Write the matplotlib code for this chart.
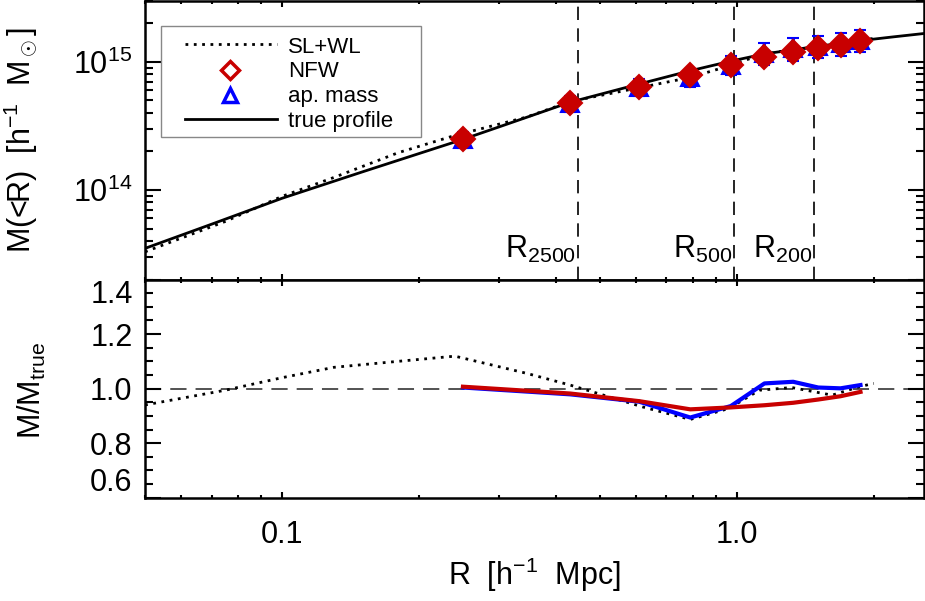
"""Cluster mass profile: SL+WL, NFW and aperture-mass estimates vs true profile."""

import matplotlib
matplotlib.use("Agg")
import matplotlib.pyplot as plt
from matplotlib.lines import Line2D
from matplotlib.patches import Rectangle
from matplotlib.ticker import FixedLocator, FixedFormatter, LogLocator, LogFormatterSciNotation, MultipleLocator, FormatStrFormatter

plt.rcParams["font.family"] = ["Liberation Sans", "DejaVu Sans"]
plt.rcParams["mathtext.fontset"] = "custom"
plt.rcParams["mathtext.rm"] = "Liberation Sans"
plt.rcParams["mathtext.it"] = "Liberation Sans:italic"
plt.rcParams["mathtext.bf"] = "Liberation Sans:bold"

# true mass profile [h^-1 Msun] vs R [h^-1 Mpc]
true_r = [0.05, 0.07, 0.1, 0.15, 0.2, 0.25, 0.3, 0.43, 0.61, 0.79, 0.97, 1.15, 1.33, 1.51, 1.69, 1.87, 2.2, 2.58]
true_m = [3.5e13, 5.4e13, 8.6e13, 1.38e14, 1.92e14, 2.48e14, 3.1e14, 4.83e14, 6.7e14, 8.5e14,
          1.01e15, 1.15e15, 1.24e15, 1.32e15, 1.39e15, 1.46e15, 1.56e15, 1.66e15]

# SL+WL reconstruction
slwl_r = [0.05, 0.075, 0.1, 0.13, 0.18, 0.24, 0.345, 0.43, 0.62, 0.79, 0.96, 1.12, 1.32, 1.62, 1.86, 2.0]
slwl_m = [3.29e13, 5.67e13, 8.9e13, 1.25e14, 1.95e14, 2.66e14, 3.7e14, 4.89e14, 6.34e14, 7.54e14,
          9.27e14, 1.12e15, 1.245e15, 1.33e15, 1.47e15, 1.52e15]
slwl_ratio = [0.94, 0.994, 1.04, 1.078, 1.10, 1.119, 1.056, 1.013, 0.933, 0.887,
              0.927, 0.994, 1.004, 0.976, 1.007, 1.019]

# aperture radii and fitted / measured masses
ap_r = [0.25, 0.43, 0.61, 0.79, 0.97, 1.15, 1.33, 1.51, 1.69, 1.87]
nfw_m = [2.5e14, 4.74e14, 6.38e14, 7.85e14, 9.39e14, 1.09e15, 1.18e15, 1.27e15, 1.35e15, 1.44e15]
nfw_err = [0.2e14, 0.45e14, 0.6e14, 0.75e14, 0.9e14, 1.1e14, 1.2e14, 1.3e14, 1.4e14, 1.5e14]
apm_m = [2.49e14, 4.73e14, 6.38e14, 7.6e14, 9.45e14, 1.17e15, 1.27e15, 1.325e15, 1.39e15, 1.48e15]
apm_err = [0.35e14, 0.7e14, 1.0e14, 1.2e14, 1.6e14, 2.2e14, 2.5e14, 2.6e14, 2.8e14, 3.0e14]
nfw_ratio = [1.007, 0.982, 0.954, 0.924, 0.931, 0.939, 0.948, 0.960, 0.972, 0.988]
apm_ratio = [1.004, 0.979, 0.952, 0.894, 0.936, 1.019, 1.025, 1.004, 1.001, 1.013]

# characteristic radii
radii_r = [0.447, 0.988, 1.48]
radii_lab = [r"R$_{2500}$", r"R$_{500}$", r"R$_{200}$"]

legend_labels = ["SL+WL", "NFW", "ap. mass", "true profile"]

RED = "#c80000"
BLUE = "#0000ff"
FS = 22

fig = plt.figure(figsize=(9.25, 6.01), dpi=100)
ax1 = fig.add_axes([0.1568, 0.5349, 0.8422, 0.4642])
ax2 = fig.add_axes([0.1568, 0.1719, 0.8422, 0.3630])

dot = (0, (1, 2))

# top panel
ax1.plot(slwl_r, slwl_m, color="black", lw=2, ls=dot)
ax1.plot(true_r, true_m, color="black", lw=2)
ax1.errorbar(ap_r, apm_m, yerr=apm_err, fmt="^", color=BLUE, ms=13, mew=1.5,
             ecolor=BLUE, elinewidth=2, capsize=4, capthick=2, zorder=4)
ax1.errorbar(ap_r, nfw_m, yerr=nfw_err, fmt="D", color=RED, ms=12, mew=1.5,
             ecolor=RED, elinewidth=2, capsize=3, capthick=2, zorder=5)
for r, lab in zip(radii_r, radii_lab):
    ax1.axvline(r, color="black", lw=1.2, ls=(0, (8, 5)), zorder=1)
    ax1.text(r * 0.99, 0.077, lab, transform=ax1.get_xaxis_transform(),
             ha="right", va="baseline", fontsize=FS)

ax1.set_xscale("log")
ax1.set_yscale("log")
ax1.set_xlim(0.05, 2.58)
ax1.set_ylim(2e13, 3e15)
ax1.yaxis.set_major_locator(FixedLocator([1e14, 1e15]))
ax1.yaxis.set_major_formatter(LogFormatterSciNotation())
ax1.yaxis.set_minor_locator(LogLocator(base=10, subs=range(2, 10)))
ax1.set_ylabel(r"M(<R)  [h$^{-1}$  M$_\odot$]", fontsize=FS)
ax1.yaxis.set_label_coords(-0.135, 0.5)

# legend, laid out by hand in axes coordinates
ta = ax1.transAxes
ax1.add_patch(Rectangle((0.0202, 0.5118), 0.3335, 0.3968, transform=ta, facecolor="white",
                        edgecolor="#888888", lw=1.0, zorder=6))
row_y = [0.8448, 0.7509, 0.6620, 0.5760]
base_y = [0.8124, 0.7276, 0.6380, 0.5484]
ax1.plot([0.0513, 0.1694], [row_y[0]] * 2, transform=ta, color="black", lw=2, ls=dot, zorder=7)
ax1.plot([0.1091], [row_y[1]], transform=ta, ls="none", marker="D", ms=9, mfc="none",
         mec=RED, mew=2.5, zorder=7)
ax1.plot([0.1091], [row_y[2]], transform=ta, ls="none", marker="^", ms=10, mfc="none",
         mec=BLUE, mew=2.5, zorder=7)
ax1.plot([0.0513, 0.1694], [row_y[3]] * 2, transform=ta, color="black", lw=2, zorder=7)
for yb, lab in zip(base_y, legend_labels):
    ax1.text(0.1836, yb, lab, transform=ta, fontsize=16, ha="left", va="baseline", zorder=8)

# bottom panel
ax2.axhline(1.0, color="#444444", lw=1.3, ls=(0, (9, 5)), zorder=1)
ax2.plot(slwl_r, slwl_ratio, color="black", lw=2, ls=dot)
ax2.plot(ap_r, apm_ratio, color=BLUE, lw=3)
ax2.plot(ap_r, nfw_ratio, color=RED, lw=3)
ax2.set_xscale("log")
ax2.set_xlim(0.05, 2.58)
ax2.set_ylim(0.6, 1.4)
ax2.yaxis.set_major_locator(FixedLocator([0.6, 0.8, 1.0, 1.2, 1.4]))
ax2.yaxis.set_minor_locator(MultipleLocator(0.05))
ax2.yaxis.set_major_formatter(FormatStrFormatter("%.1f"))
ax2.set_ylabel(r"M/M$_{\rm true}$", fontsize=FS)
ax2.yaxis.set_label_coords(-0.125, 0.49)
ax2.set_xlabel(r"R  [h$^{-1}$  Mpc]", fontsize=FS)

for ax in (ax1, ax2):
    ax.xaxis.set_major_locator(FixedLocator([0.1, 1.0]))
    ax.xaxis.set_minor_locator(LogLocator(base=10, subs=range(2, 10)))
    ax.xaxis.set_minor_formatter(FixedFormatter([]))
    for s in ax.spines.values():
        s.set_linewidth(1.8)
    ax.tick_params(axis="both", which="both", direction="in", top=True, right=True,
                   labelsize=FS, width=1.5)
    ax.tick_params(axis="x", which="major", length=4.5, pad=16)
    ax.tick_params(axis="x", which="minor", length=2.2)
    ax.tick_params(axis="y", which="major", length=11.5, pad=9)
    ax.tick_params(axis="y", which="minor", length=5.8)

ax1.tick_params(axis="x", which="both", labelbottom=False)
ax2.xaxis.set_major_formatter(FixedFormatter(["0.1", "1.0"]))

# keep the end labels of the ratio axis inside the panel
yticks = ax2.yaxis.get_major_ticks()
yticks[0].label1.set_verticalalignment("bottom")
yticks[-1].label1.set_verticalalignment("top")

fig.savefig("out.png", dpi=100)
